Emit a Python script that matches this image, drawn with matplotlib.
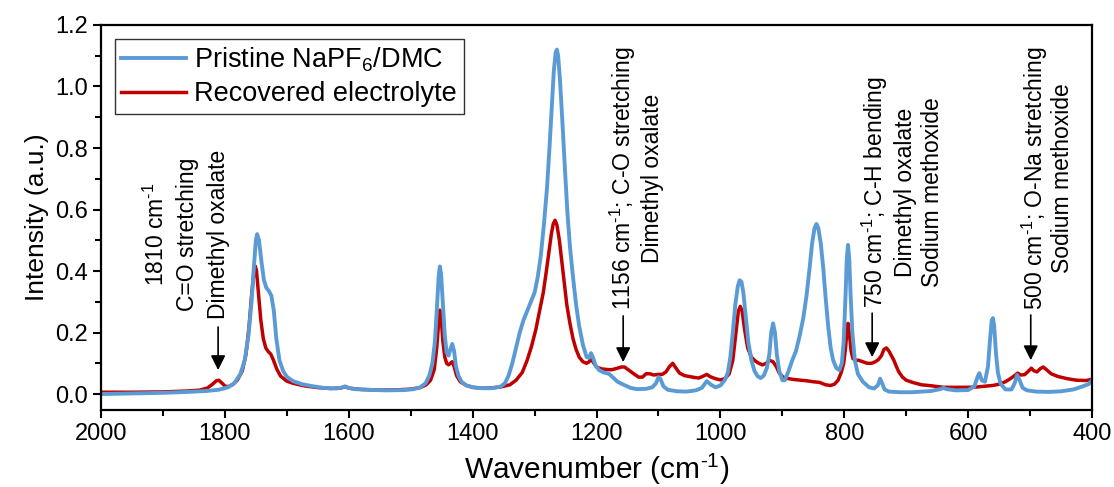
import matplotlib
matplotlib.use("Agg")
import matplotlib.pyplot as plt
from matplotlib.ticker import MultipleLocator

plt.rcParams['font.family'] = ['Liberation Sans', 'DejaVu Sans']
plt.rcParams['mathtext.fontset'] = 'custom'
plt.rcParams['mathtext.rm'] = 'Liberation Sans'
plt.rcParams['mathtext.default'] = 'regular'

# Pristine NaPF6/DMC spectrum (wavenumber, intensity)
wn_pristine = [2000, 1950, 1900, 1860, 1830, 1810, 1795, 1785, 1775, 1768, 1762, 1757,
               1753, 1750, 1748, 1745, 1741, 1737, 1733, 1729, 1725, 1721, 1717, 1712,
               1706, 1700, 1690, 1675, 1660, 1640, 1620, 1612, 1606, 1600, 1590, 1570,
               1540, 1510, 1495, 1485, 1476, 1470, 1465, 1461, 1458, 1455, 1453, 1451,
               1448, 1445, 1442, 1439, 1436, 1433, 1430, 1427, 1423, 1418, 1410, 1400,
               1385, 1370, 1355, 1348, 1342, 1336, 1330, 1324, 1318, 1312, 1306, 1300,
               1295, 1290, 1285, 1280, 1276, 1272, 1269, 1266, 1264, 1262, 1259, 1255,
               1251, 1247, 1243, 1238, 1233, 1228, 1222, 1216, 1212, 1209, 1206, 1202,
               1196, 1188, 1180, 1174, 1166, 1156, 1145, 1135, 1120, 1110, 1104, 1100,
               1097, 1092, 1085, 1070, 1055, 1040, 1030, 1022, 1015, 1008, 1000, 993,
               988, 984, 980, 976, 972, 969, 966, 963, 959, 955, 950, 945,
               940, 935, 930, 925, 921, 918, 915, 912, 909, 905, 900, 896,
               890, 884, 878, 872, 866, 861, 856, 852, 848, 845, 842, 838,
               834, 830, 826, 822, 818, 813, 808, 804, 801, 798, 796, 794,
               792, 790, 787, 783, 778, 770, 760, 752, 746, 742, 739, 735,
               728, 710, 690, 660, 645, 640, 635, 620, 600, 590, 585, 582,
               578, 573, 568, 565, 562, 560, 558, 555, 552, 548, 540, 530,
               525, 521, 517, 512, 505, 490, 470, 450, 430, 415, 405, 400]
int_pristine = [0.000, 0.002, 0.004, 0.007, 0.010, 0.014, 0.022, 0.035, 0.065, 0.11, 0.19, 0.30,
                0.42, 0.50, 0.52, 0.50, 0.43, 0.37, 0.345, 0.335, 0.32, 0.27, 0.18, 0.11,
                0.075, 0.056, 0.042, 0.032, 0.026, 0.020, 0.018, 0.021, 0.025, 0.020, 0.016, 0.014,
                0.012, 0.013, 0.016, 0.022, 0.035, 0.06, 0.10, 0.17, 0.27, 0.38, 0.415, 0.39,
                0.29, 0.19, 0.135, 0.125, 0.145, 0.163, 0.14, 0.09, 0.06, 0.04, 0.028, 0.022,
                0.019, 0.019, 0.024, 0.035, 0.06, 0.10, 0.15, 0.20, 0.24, 0.27, 0.30, 0.33,
                0.38, 0.45, 0.55, 0.67, 0.80, 0.94, 1.05, 1.11, 1.12, 1.10, 1.02, 0.88,
                0.73, 0.59, 0.48, 0.38, 0.29, 0.22, 0.16, 0.12, 0.118, 0.133, 0.12, 0.095,
                0.078, 0.07, 0.066, 0.055, 0.04, 0.03, 0.02, 0.016, 0.017, 0.022, 0.035, 0.055,
                0.05, 0.025, 0.014, 0.009, 0.008, 0.012, 0.02, 0.042, 0.03, 0.022, 0.028, 0.045,
                0.07, 0.12, 0.20, 0.29, 0.35, 0.37, 0.365, 0.33, 0.25, 0.17, 0.11, 0.075,
                0.058, 0.052, 0.06, 0.085, 0.13, 0.20, 0.23, 0.20, 0.13, 0.075, 0.045, 0.045,
                0.075, 0.11, 0.14, 0.19, 0.25, 0.32, 0.41, 0.49, 0.54, 0.553, 0.54, 0.49,
                0.41, 0.31, 0.22, 0.15, 0.11, 0.085, 0.078, 0.10, 0.17, 0.32, 0.44, 0.485,
                0.44, 0.33, 0.20, 0.11, 0.065, 0.04, 0.022, 0.018, 0.028, 0.05, 0.035, 0.015,
                0.008, 0.006, 0.006, 0.010, 0.016, 0.02, 0.016, 0.012, 0.013, 0.025, 0.055, 0.068,
                0.045, 0.04, 0.09, 0.17, 0.24, 0.247, 0.22, 0.13, 0.07, 0.035, 0.015, 0.015,
                0.035, 0.062, 0.045, 0.02, 0.012, 0.008, 0.007, 0.009, 0.015, 0.025, 0.033, 0.045]

# Recovered electrolyte spectrum (wavenumber, intensity)
wn_recovered = [2000, 1950, 1900, 1860, 1840, 1828, 1820, 1814, 1810, 1806, 1800, 1795,
                1788, 1780, 1772, 1766, 1761, 1757, 1753, 1751, 1749, 1746, 1742, 1738,
                1734, 1730, 1726, 1722, 1716, 1710, 1700, 1690, 1670, 1650, 1630, 1612,
                1606, 1600, 1580, 1550, 1520, 1500, 1485, 1475, 1468, 1462, 1458, 1455,
                1453, 1451, 1448, 1445, 1442, 1439, 1436, 1433, 1430, 1426, 1420, 1410,
                1400, 1385, 1370, 1355, 1340, 1330, 1320, 1312, 1305, 1298, 1292, 1286,
                1281, 1277, 1273, 1270, 1267, 1264, 1260, 1256, 1252, 1248, 1243, 1238,
                1233, 1228, 1222, 1216, 1212, 1209, 1206, 1200, 1192, 1184, 1176, 1168,
                1160, 1155, 1148, 1140, 1132, 1126, 1120, 1114, 1108, 1100, 1094, 1088,
                1082, 1077, 1072, 1066, 1058, 1045, 1035, 1028, 1022, 1016, 1008, 1000,
                993, 986, 980, 975, 971, 968, 965, 961, 956, 950, 944, 938,
                932, 926, 921, 915, 910, 905, 899, 890, 880, 870, 860, 850,
                840, 830, 822, 816, 810, 805, 801, 798, 796, 794, 792, 789,
                786, 782, 777, 770, 763, 756, 750, 745, 740, 736, 732, 728,
                724, 720, 716, 712, 706, 700, 690, 675, 660, 640, 620, 600,
                586, 575, 560, 550, 540, 532, 525, 520, 515, 509, 504, 498,
                494, 489, 484, 479, 474, 466, 455, 440, 425, 410, 400]
int_recovered = [0.006, 0.006, 0.007, 0.010, 0.013, 0.02, 0.032, 0.043, 0.045, 0.038, 0.026, 0.024,
                 0.03, 0.045, 0.075, 0.13, 0.22, 0.32, 0.40, 0.416, 0.40, 0.33, 0.24, 0.18,
                 0.15, 0.138, 0.13, 0.112, 0.08, 0.058, 0.042, 0.035, 0.026, 0.021, 0.018, 0.02,
                 0.024, 0.019, 0.015, 0.013, 0.014, 0.016, 0.021, 0.03, 0.045, 0.08, 0.15, 0.23,
                 0.273, 0.25, 0.17, 0.12, 0.10, 0.095, 0.10, 0.105, 0.09, 0.06, 0.04, 0.028,
                 0.022, 0.019, 0.02, 0.023, 0.03, 0.045, 0.07, 0.11, 0.155, 0.21, 0.27, 0.33,
                 0.40, 0.46, 0.52, 0.553, 0.565, 0.55, 0.50, 0.43, 0.36, 0.29, 0.23, 0.18,
                 0.145, 0.12, 0.105, 0.10, 0.105, 0.117, 0.105, 0.088, 0.082, 0.08, 0.079, 0.083,
                 0.088, 0.088, 0.078, 0.066, 0.055, 0.055, 0.066, 0.066, 0.062, 0.064, 0.064, 0.072,
                 0.09, 0.10, 0.085, 0.068, 0.06, 0.055, 0.052, 0.058, 0.064, 0.056, 0.05, 0.046,
                 0.05, 0.065, 0.11, 0.20, 0.27, 0.285, 0.27, 0.21, 0.15, 0.12, 0.108, 0.10,
                 0.095, 0.10, 0.11, 0.105, 0.09, 0.068, 0.055, 0.05, 0.047, 0.045, 0.043, 0.04,
                 0.038, 0.03, 0.028, 0.032, 0.045, 0.07, 0.10, 0.15, 0.20, 0.23, 0.20, 0.14,
                 0.115, 0.11, 0.11, 0.105, 0.10, 0.10, 0.105, 0.112, 0.125, 0.145, 0.15, 0.14,
                 0.125, 0.11, 0.09, 0.072, 0.055, 0.045, 0.038, 0.03, 0.027, 0.022, 0.022, 0.022,
                 0.023, 0.025, 0.028, 0.032, 0.04, 0.05, 0.06, 0.068, 0.062, 0.063, 0.072, 0.084,
                 0.076, 0.072, 0.082, 0.088, 0.08, 0.066, 0.057, 0.05, 0.045, 0.044, 0.048]

# band assignments: text lines, x of each line, y centre, arrow x, arrow start, arrow tip
inv_cm = r'cm$^{\text{-1}}$'
band_lines = [
    ["1810 " + inv_cm, "C=O stretching", "Dimethyl oxalate"],
    ["1156 " + inv_cm + "; C-O stretching", "Dimethyl oxalate"],
    ["750 " + inv_cm + "; C-H bending", "Dimethyl oxalate", "Sodium methoxide"],
    ["500 " + inv_cm + "; O-Na stretching", "Sodium methoxide"],
]
band_text_x = [[1910, 1861, 1811], [1157, 1109], [750, 702, 657], [492, 447]]
band_text_y = [0.52, 0.702, 0.657, 0.702]
arrow_x = [1811, 1157, 755, 499]
arrow_start = [0.218, 0.254, 0.263, 0.257]
arrow_tip = [0.078, 0.104, 0.12, 0.11]

fig = plt.figure(figsize=(11.14, 4.87), dpi=100)
ax = fig.add_axes([0.0907, 0.158, 0.8896, 0.7907])

red_line, = ax.plot(wn_recovered, int_recovered, color='#C00000', lw=2.5,
                    label='Recovered electrolyte', solid_joinstyle='round')
blue_line, = ax.plot(wn_pristine, int_pristine, color='#5B9BD5', lw=2.8,
                     label='Pristine NaPF$_6$/DMC', solid_joinstyle='round')

for lines, xs, yc in zip(band_lines, band_text_x, band_text_y):
    for txt, x in zip(lines, xs):
        ax.text(x, yc, txt, rotation=90, ha='center', va='center', fontsize=16.5)

for x, y0, y1 in zip(arrow_x, arrow_start, arrow_tip):
    ax.annotate('', xy=(x, y1), xytext=(x, y0),
                arrowprops=dict(arrowstyle='-|>', color='k', lw=1.2,
                                mutation_scale=22, shrinkA=0, shrinkB=0))

ax.set_xlim(2000, 400)
ax.set_ylim(-0.052, 1.2)
ax.xaxis.set_major_locator(MultipleLocator(200))
ax.xaxis.set_minor_locator(MultipleLocator(100))
ax.yaxis.set_major_locator(MultipleLocator(0.2))
ax.yaxis.set_minor_locator(MultipleLocator(0.1))
ax.yaxis.set_major_formatter(plt.FuncFormatter(lambda v, p: f'{v:.1f}'))
ax.tick_params(which='both', direction='out', width=1.5, labelsize=17)
ax.tick_params(which='major', length=6)
ax.tick_params(which='minor', length=4)
for sp in ax.spines.values():
    sp.set_linewidth(1.6)

ax.set_xlabel('Wavenumber (' + inv_cm + ')', fontsize=21.5, labelpad=5)
ax.set_ylabel('Intensity (a.u.)', fontsize=19)

leg = ax.legend(handles=[blue_line, red_line], loc='upper left', fontsize=19.5,
                frameon=True, fancybox=False, edgecolor='k', handlelength=2.4,
                borderaxespad=0.5, borderpad=0.25, labelspacing=0.28, handletextpad=0.3)
leg.get_frame().set_linewidth(1.0)

fig.savefig('out.png', dpi=100)
